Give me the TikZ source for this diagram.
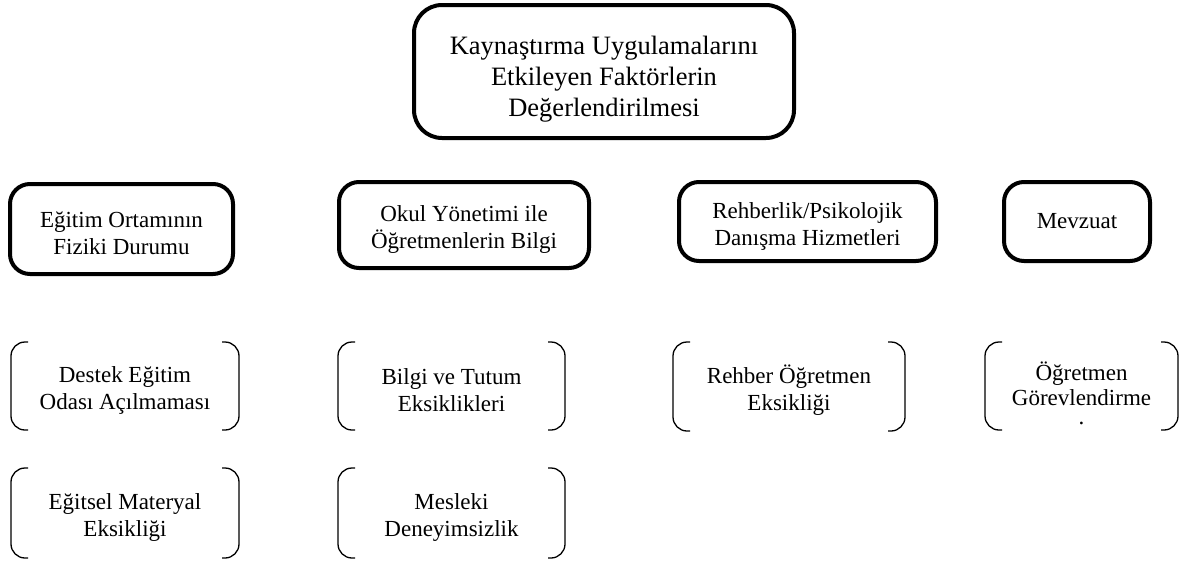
\documentclass[tikz,border=0pt]{standalone}
\usepackage{fontspec}
\setmainfont{Liberation Serif}

\begin{document}
\begin{tikzpicture}[x=1pt,y=-1pt,thick,
    box/.style={rounded corners=20pt,draw,line width=4pt,align=center,font=\fontsize{23}{27}\selectfont},
    main node/.style={box,text height=52pt},
    sub node/.style={minimum width=228pt,minimum height=88pt,outer sep=0pt,align=center,font=\fontsize{23}{27}\selectfont,text height=52pt},
    bracket/.style={line width=1.3pt,rounded corners=14pt}]
  \useasboundingbox (0,0) rectangle (1184,563);
  \node[box,rounded corners=28pt,minimum width=380pt,minimum height=133pt,font=\fontsize{26.5}{31}\selectfont,text height=96pt] (top) at (604,71.5) {Kaynaştırma Uygulamalarını\\Etkileyen Faktörlerin\\Değerlendirilmesi};

  \node[main node,minimum width=223pt,minimum height=90pt] (ortam) at (121.5,229) {Eğitim Ortamının\\Fiziki Durumu};
  \node[main node,minimum width=250pt,minimum height=86pt] (yonetim) at (464,225) {Okul Yönetimi ile\\Öğretmenlerin Bilgi};
  \node[main node,minimum width=257pt,minimum height=79pt] (rehberlik) at (807.5,221.5) {Rehberlik/Psikolojik\\Danışma Hizmetleri};
  \node[box,minimum width=146pt,minimum height=79pt] (mevzuat) at (1077,221.5) {Mevzuat};

  \node[sub node] (destek) at (125,386) {Destek Eğitim\\Odası Açılmaması};
  \node[sub node,minimum width=227pt] (tutum) at (451.5,386) {Bilgi ve Tutum\\Eksiklikleri};
  \node[sub node,minimum width=232pt,minimum height=89pt] (rehber) at (789,386.5) {Rehber Öğretmen\\Eksikliği};
  \node[sub node,minimum width=193pt,font=\fontsize{23}{25}\selectfont,text height=77pt] (gorev) at (1081.5,386) {Öğretmen\\Görevlendirme\\[-6pt].};
  \node[sub node,minimum height=90pt] (materyal) at (125,513) {Eğitsel Materyal\\Eksikliği};
  \node[sub node,minimum width=227pt,minimum height=90pt] (deneyim) at (451.5,513) {Mesleki\\Deneyimsizlik};

  \foreach \n in {destek,tutum,rehber,gorev,materyal,deneyim}{
    \draw[bracket] ([xshift=17pt]\n.north west) -- (\n.north west) -- (\n.south west) -- ([xshift=17pt]\n.south west);
    \draw[bracket] ([xshift=-17pt]\n.north east) -- (\n.north east) -- (\n.south east) -- ([xshift=-17pt]\n.south east);
  }
\end{tikzpicture}
\end{document}
